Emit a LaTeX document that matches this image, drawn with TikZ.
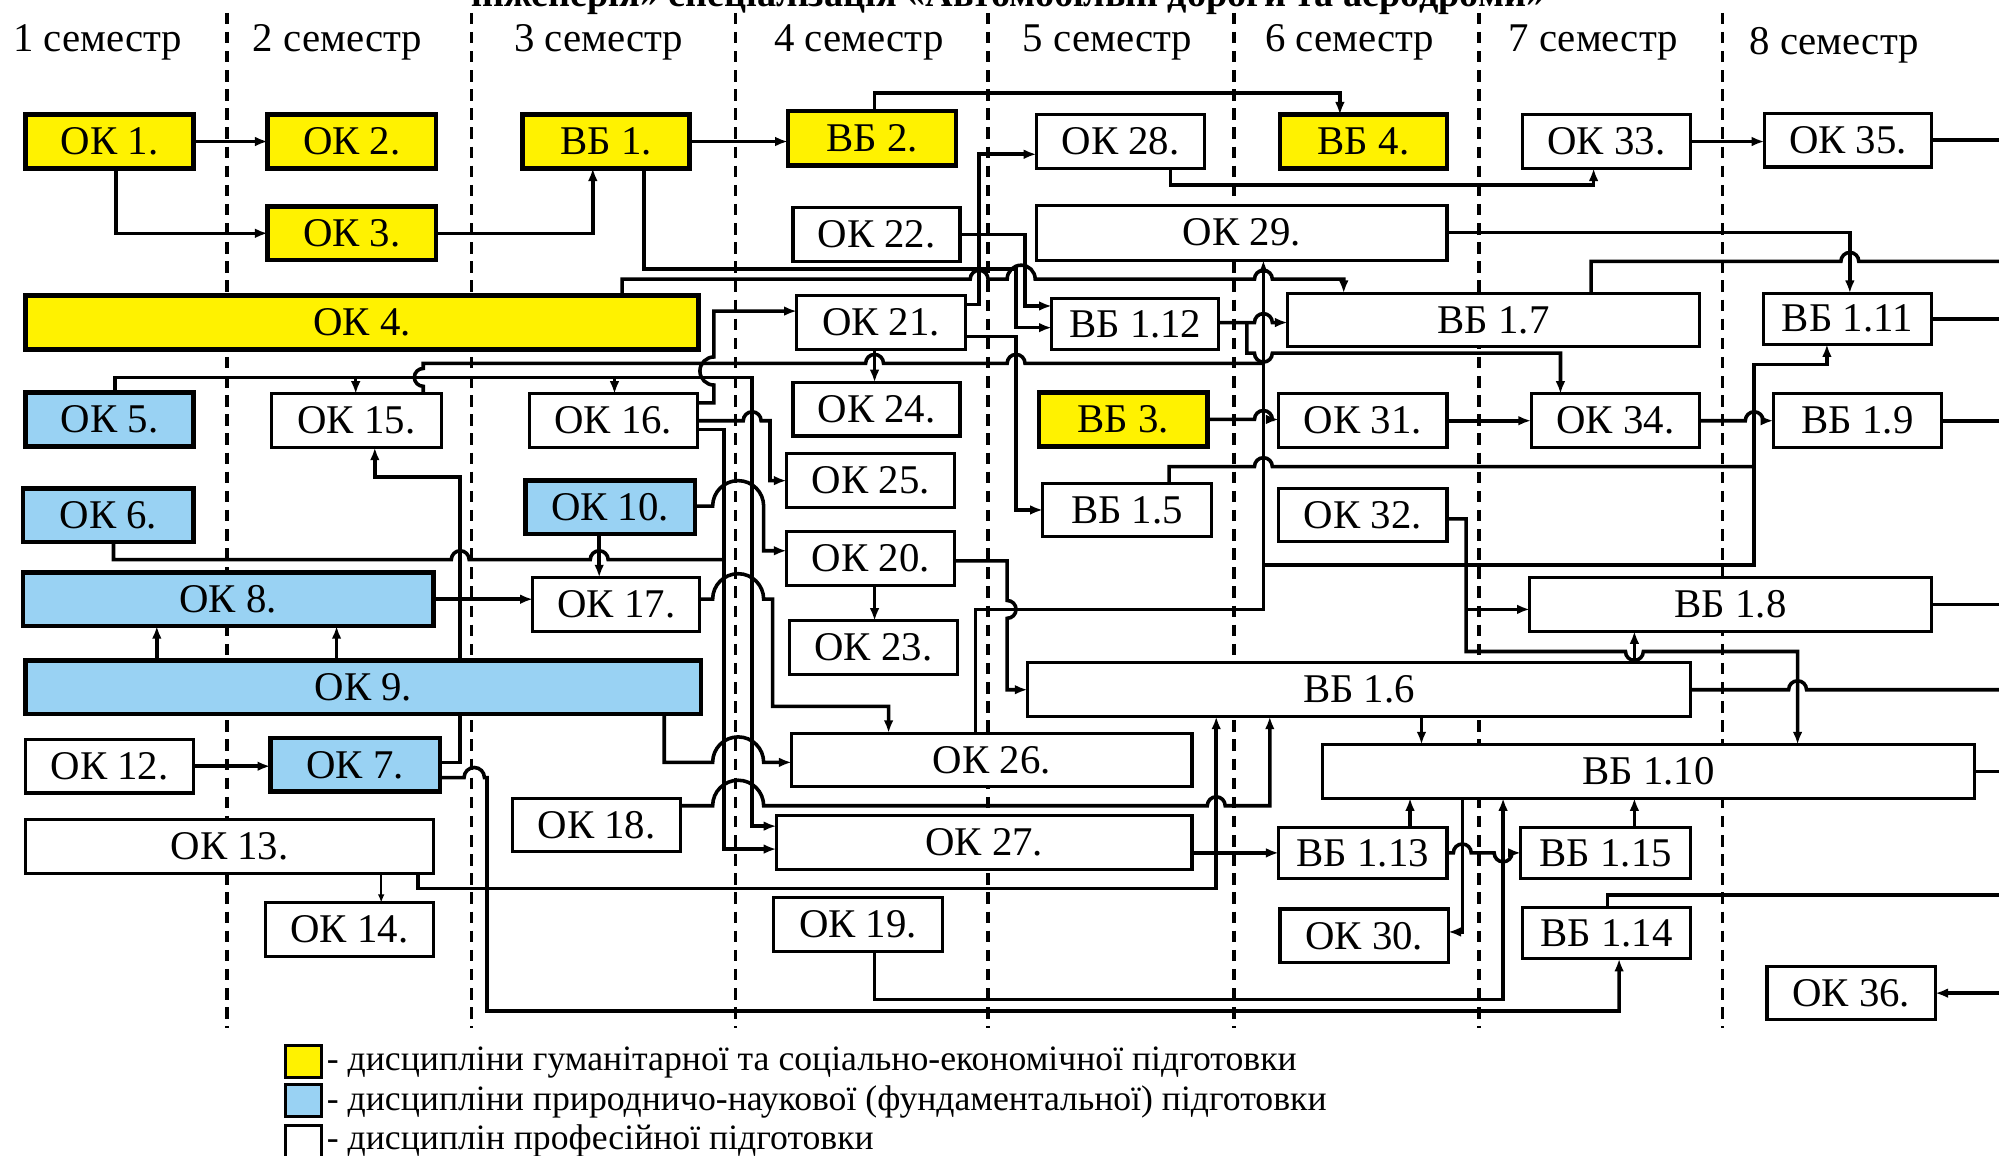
\documentclass[tikz,border=0pt]{standalone}
\usepackage{fontspec}
\setmainfont{Liberation Serif}
\usetikzlibrary{arrows.meta}
\pgfdeclarelayer{bg}
\pgfsetlayers{bg,main}
\definecolor{yel}{RGB}{255,242,0}
\definecolor{blu}{RGB}{153,210,243}
\newcommand\bx[7]{\node[#1, minimum width={(#5-#3)*0.5pt}, minimum height={(#6-#4)*0.5pt}] (#2) at ({(#3+#5)/2},{(#4+#6)/2}) {#7};}
\begin{document}
\begin{tikzpicture}[x=0.5pt,y=-0.5pt,
  base/.style={draw=black, inner sep=0pt, outer sep=0pt, font=\fontsize{16}{18}\selectfont},
  ybox/.style={base, fill=yel, line width=1.8pt},
  bbox/.style={base, fill=blu, line width=1.8pt},
  wbox/.style={base, fill=white, line width=1.2pt},
  conn/.style={line width=1.4pt, line join=miter},
  arr/.style={conn, -{Latex[length=5pt,width=3.8pt]}},
  thinarr/.style={line width=0.6pt, -{Latex[length=3.2pt,width=2.6pt]}},
  semline/.style={line width=1.3pt, dash pattern=on 4.5pt off 3pt},
  sem/.style={font=\fontsize{16}{18}\selectfont, anchor=base west, inner sep=0pt},
  legbox/.style={draw=black, line width=1.2pt, inner sep=0pt, minimum width=14pt, minimum height=12.5pt},
  legtxt/.style={anchor=base west, inner sep=0pt, font=\fontsize{14}{16}\selectfont}
]
\useasboundingbox (0,0) rectangle (1568,906);

% title (cut off at the top edge, as in the reference)
\node[anchor=base, inner sep=0pt, font=\bfseries\fontsize{15}{18}\selectfont] (title) at (791,5) {інженерія» спеціалізація «Автомобільні дороги та аеродроми»};

% semester labels
\node[sem] (s1) at (10,40) {1 семестр};
\node[sem] (s2) at (198,40) {2 семестр};
\node[sem] (s3) at (403,40) {3 семестр};
\node[sem] (s4) at (607,40) {4 семестр};
\node[sem] (s5) at (802,40) {5 семестр};
\node[sem] (s6) at (992,40) {6 семестр};
\node[sem] (s7) at (1183,40) {7 семестр};
\node[sem] (s8) at (1372,43) {8 семестр};

% boxes
\bx{ybox}{ok1}{20}{90}{152}{132}{ОК 1.}
\bx{ybox}{ok2}{210}{90}{342}{132}{ОК 2.}
\bx{ybox}{vb1}{410}{90}{541}{132}{ВБ 1.}
\bx{ybox}{vb2}{618}{87}{750}{130}{ВБ 2.}
\bx{wbox}{ok28}{813}{90}{945}{132}{ОК 28.}
\bx{ybox}{vb4}{1004}{90}{1135}{132}{ВБ 4.}
\bx{wbox}{ok33}{1194}{90}{1326}{132}{ОК 33.}
\bx{wbox}{ok35}{1384}{89}{1515}{131}{ОК 35.}
\bx{ybox}{ok3}{210}{162}{342}{204}{ОК 3.}
\bx{wbox}{ok22}{622}{163}{753}{205}{ОК 22.}
\bx{wbox}{ok29}{813}{161}{1135}{204}{ОК 29.}
\bx{ybox}{ok4}{20}{232}{548}{274}{ОК 4.}
\bx{wbox}{ok21}{625}{232}{757}{274}{ОК 21.}
\bx{wbox}{vb112}{825}{234}{956}{274}{ВБ 1.12}
\bx{wbox}{vb17}{1010}{230}{1333}{272}{ВБ 1.7}
\bx{wbox}{vb111}{1383}{230}{1515}{270}{ВБ 1.11}
\bx{bbox}{ok5}{20}{308}{152}{350}{ОК 5.}
\bx{wbox}{ok15}{213}{309}{346}{351}{ОК 15.}
\bx{wbox}{ok16}{415}{309}{547}{351}{ОК 16.}
\bx{wbox}{ok24}{622}{300}{753}{342}{ОК 24.}
\bx{ybox}{vb3}{815}{308}{947}{350}{ВБ 3.}
\bx{wbox}{ok31}{1003}{309}{1135}{351}{ОК 31.}
\bx{wbox}{ok34}{1201}{309}{1333}{351}{ОК 34.}
\bx{wbox}{vb19}{1391}{309}{1523}{351}{ВБ 1.9}
\bx{wbox}{ok25}{617}{356}{749}{398}{ОК 25.}
\bx{bbox}{ok6}{18}{383}{152}{425}{ОК 6.}
\bx{bbox}{ok10}{412}{377}{545}{419}{ОК 10.}
\bx{wbox}{vb15}{818}{379}{950}{421}{ВБ 1.5}
\bx{wbox}{ok32}{1003}{383}{1135}{425}{ОК 32.}
\bx{wbox}{ok20}{617}{417}{749}{459}{ОК 20.}
\bx{bbox}{ok8}{18}{449}{340}{491}{ОК 8.}
\bx{wbox}{ok17}{418}{453}{549}{495}{ОК 17.}
\bx{wbox}{vb18}{1200}{453}{1515}{495}{ВБ 1.8}
\bx{wbox}{ok23}{619}{487}{751}{529}{ОК 23.}
\bx{bbox}{ok9}{20}{518}{550}{560}{ОК 9.}
\bx{wbox}{vb16}{806}{520}{1326}{562}{ВБ 1.6}
\bx{wbox}{ok12}{20}{580}{152}{622}{ОК 12.}
\bx{bbox}{ok7}{212}{579}{345}{621}{ОК 7.}
\bx{wbox}{ok26}{621}{575}{935}{617}{ОК 26.}
\bx{wbox}{vb110}{1037}{584}{1549}{626}{ВБ 1.10}
\bx{wbox}{ok18}{402}{626}{534}{668}{ОК 18.}
\bx{wbox}{ok13}{20}{643}{340}{685}{ОК 13.}
\bx{wbox}{ok27}{609}{640}{935}{682}{ОК 27.}
\bx{wbox}{vb113}{1003}{649}{1135}{689}{ВБ 1.13}
\bx{wbox}{vb115}{1193}{649}{1326}{689}{ВБ 1.15}
\bx{wbox}{ok14}{208}{708}{340}{750}{ОК 14.}
\bx{wbox}{ok19}{607}{704}{739}{746}{ОК 19.}
\bx{wbox}{ok30}{1004}{713}{1136}{755}{ОК 30.}
\bx{wbox}{vb114}{1194}{712}{1326}{752}{ВБ 1.14}
\bx{wbox}{ok36}{1386}{758}{1518}{800}{ОК 36.}

% legend
\node[legbox, fill=yel] (lg1) at (238,832.5) {};
\node[legtxt] (lt1) at (256,840) {- дисципліни гуманітарної та соціально-економічної підготовки};
\node[legbox, fill=blu] (lg2) at (238,863.5) {};
\node[legtxt] (lt2) at (256,871) {- дисципліни природничо-наукової (фундаментальної) підготовки};
\node[legbox, fill=white] (lg3) at (238,895.5) {};
\node[legtxt] (lt3) at (256,902) {- дисциплін професійної підготовки};

% junction coordinates
\coordinate (j15) at (279,296);
\coordinate (j16) at (482,296);
\coordinate (jA) at (991,443);
\coordinate (jB) at (978,253);
\coordinate (jC) at (1150,478);

\begin{pgfonlayer}{bg}
% semester separators
\foreach \xx in {178,370,577,775,968,1160,1351}
  \draw[semline] (\xx,10) -- (\xx,806);

% row 1
\draw[arr] (ok1.east) -- (ok2.west);
\draw[arr] (ok1.south -| 91,0) -- (91,183) -- (ok3.west);
\draw[arr] (ok3.east) -- (465,183) -- (vb1.south -| 465,0);
\draw[arr] (vb1.east) -- (vb1.east -| vb2.west);
\draw[arr] (vb2.north -| 686,0) -- (686,73) -- (1051,73) -- (vb4.north -| 1051,0);
\draw[arr] (ok28.south -| 918,0) -- (918,145) -- (1250,145) -- (ok33.south -| 1250,0);
\draw[arr] (ok33.east) -- (ok33.east -| ok35.west);
\draw[conn] (ok35.east) -- (ok35.east -| 1568,0);

% right side exits
\draw[arr] (ok29.east) -- (ok29.east -| 1451,0) -- (vb111.north -| 1451,0);
\draw[conn] (vb17.north -| 1248,0) -- (1248,205) -- (1444,205) arc[start angle=180,end angle=0,radius=3.5pt] -- (1568,205);
\draw[conn] (vb111.east) -- (vb111.east -| 1568,0);
\draw[conn] (vb19.east) -- (vb19.east -| 1568,0);
\draw[conn] (vb18.east) -- (vb18.east -| 1568,0);
\draw[conn] (vb16.east) -- (1403,541) arc[start angle=180,end angle=0,radius=3.5pt] -- (1568,541);
\draw[conn] (vb110.east) -- (vb110.east -| 1568,0);
\draw[arr] (ok36.east -| 1568,0) -- (ok36.east);
\draw[conn] (vb114.north -| 1261,0) -- (1261,702) -- (1568,702);

% upper middle
\draw[arr] (vb1.south -| 505,0) -- (505,211) -- (797,211) -- (797,257) -- (vb112.west |- 0,257);
\draw[arr] (ok4.north -| 488,0) -- (488,219) -- (761,219) arc[start angle=180,end angle=0,radius=3.5pt]
   -- (790,219) arc[start angle=180,end angle=0,radius=5.5pt]
   -- (984,219) arc[start angle=180,end angle=0,radius=3.5pt] -- (1054,219) -- (vb17.north -| 1054,0);
\draw[arr] (ok22.east) -- (804,184) -- (804,240) -- (vb112.west |- 0,240);
\draw[arr] (ok21.east |- 0,239) -- (768,239) -- (768,121) -- (ok28.west |- 0,121);
\draw[arr] (ok21.south -| 686,0) -- (ok24.north -| 686,0);
\draw[arr] (ok21.east |- 0,264) -- (797,264) -- (797,400) -- (vb15.west |- 0,400);
\draw[arr] (ok16.east |- 0,316) -- (560,316) -- (560,302) arc[start angle=270,end angle=90,radius=5.5pt] -- (560,244) -- (ok21.west |- 0,244);
\draw[conn] (ok15.north -| 332,0) -- (332,303) arc[start angle=270,end angle=90,radius=3.5pt] -- (332,285)
   -- (679,285) arc[start angle=180,end angle=0,radius=3.5pt]
   -- (790,285) arc[start angle=180,end angle=0,radius=3.5pt] -- (991,285);
\draw[arr] (ok5.north -| 90,0) -- (90,296) -- (590,296) -- (590,648) -- (ok27.west |- 0,648);
\draw[arr] (j15) -- (ok15.north -| j15);
\draw[arr] (j16) -- (ok16.north -| j16);
\draw[arr] (ok16.east |- 0,330) -- (583,330) arc[start angle=180,end angle=0,radius=3.5pt] -- (604,330) -- (604,377) -- (ok25.west |- 0,377);
\draw[arr] (ok16.east |- 0,337) -- (568,337) -- (568,666) -- (ok27.west |- 0,666);
\draw[conn] (ok6.south -| 89,0) -- (89,439) -- (354,439) arc[start angle=180,end angle=0,radius=3.5pt]
   -- (463,439) arc[start angle=180,end angle=0,radius=3.5pt] -- (568,439);
\draw[arr] (ok10.east |- 0,397) -- (559,397) arc[start angle=180,end angle=0,radius=10pt] -- (599,432) -- (ok20.west |- 0,432);
\draw[arr] (ok10.south -| 470,0) -- (ok17.north -| 470,0);
\draw[arr] (ok8.east) -- (ok8.east -| ok17.west);
\draw[arr] (ok17.east |- 0,470) -- (559,470) arc[start angle=180,end angle=0,radius=10pt] -- (606,470) -- (606,554) -- (697,554) -- (ok26.north -| 697,0);
\draw[arr] (ok9.north -| 123,0) -- (ok8.south -| 123,0);
\draw[arr] (ok9.north -| 264,0) -- (ok8.south -| 264,0);
\draw[arr] (ok7.east |- 0,598) -- (361,598) -- (361,374) -- (294,374) -- (ok15.south -| 294,0);
\draw[arr] (ok7.east |- 0,610) -- (364,610) arc[start angle=180,end angle=0,radius=4pt] -- (382,610) -- (382,793) -- (1270,793) -- (vb114.south -| 1270,0);
\draw[arr] (ok12.east) -- (ok12.east -| ok7.west);
\draw[arr] (ok9.south -| 521,0) -- (521,598) -- (559,598) arc[start angle=180,end angle=0,radius=10pt] -- (ok26.west |- 0,598);
\draw[arr] (ok18.east |- 0,632) -- (559,632) arc[start angle=180,end angle=0,radius=10pt]
   -- (947,632) arc[start angle=180,end angle=0,radius=3.5pt] -- (996,632) -- (vb16.south -| 996,0);
\draw[thinarr] (ok13.south -| 299,0) -- (ok14.north -| 299,0);
\draw[arr] (ok13.south -| 328,0) -- (328,697) -- (954,697) -- (vb16.south -| 954,0);
\draw[arr] (ok19.south -| 686,0) -- (686,784) -- (1179,784) -- (vb110.south -| 1179,0);
\draw[arr] (ok27.east |- 0,669) -- (vb113.west |- 0,669);
\draw[arr] (vb113.north -| 1106,0) -- (vb110.south -| 1106,0);
\draw[arr] (vb113.east) -- (1140,669) arc[start angle=180,end angle=0,radius=3.5pt]
   -- (1172,669) arc[start angle=180,end angle=360,radius=3.5pt] -- (vb115.west);
\draw[arr] (vb110.south -| 1147,0) -- (1147,731) -- (ok30.east |- 0,731);
\draw[arr] (vb115.north -| 1282,0) -- (vb110.south -| 1282,0);
\draw[arr] (ok20.south -| 686,0) -- (ok23.north -| 686,0);
\draw[arr] (ok20.east |- 0,440) -- (790,440) -- (790,471) arc[start angle=90,end angle=-90,radius=3.5pt] -- (790,541) -- (vb16.west |- 0,541);
\draw[arr] (ok26.north -| 765,0) -- (765,478) -- (991,478) -- (ok29.south -| 991,0);
\draw[arr] (jA) -- (1376,443) -- (1376,286) -- (1433,286) -- (vb111.south -| 1433,0);
\draw[conn] (vb15.north -| 917,0) -- (917,366) -- (984,366) arc[start angle=180,end angle=0,radius=3.5pt] -- (1376,366);
\draw[arr] (vb3.east) -- (984,329) arc[start angle=180,end angle=0,radius=3.5pt] -- (vb3.east -| ok31.west);
\draw[arr] (ok31.east) -- (ok34.west);
\draw[arr] (ok34.east) -- (1369,330) arc[start angle=180,end angle=0,radius=3.5pt] -- (vb19.west);
\draw[arr] (vb112.east |- 0,253) -- (984,253) arc[start angle=180,end angle=0,radius=3.5pt] -- (vb17.west |- 0,253);
\draw[arr] (jB) -- (978,277) -- (984,277) arc[start angle=180,end angle=360,radius=3.5pt] -- (1224,277) -- (ok34.north -| 1224,0);
\draw[arr] (ok32.east |- 0,407) -- (1150,407) -- (1150,511) -- (1275,511) arc[start angle=180,end angle=360,radius=3.5pt] -- (1410,511) -- (vb110.north -| 1410,0);
\draw[arr] (jC) -- (vb18.west |- jC);
\draw[arr] (vb16.north -| 1282,0) -- (vb18.south -| 1282,0);
\draw[arr] (vb16.south -| 1115,0) -- (vb110.north -| 1115,0);
\end{pgfonlayer}
\end{tikzpicture}
\end{document}
